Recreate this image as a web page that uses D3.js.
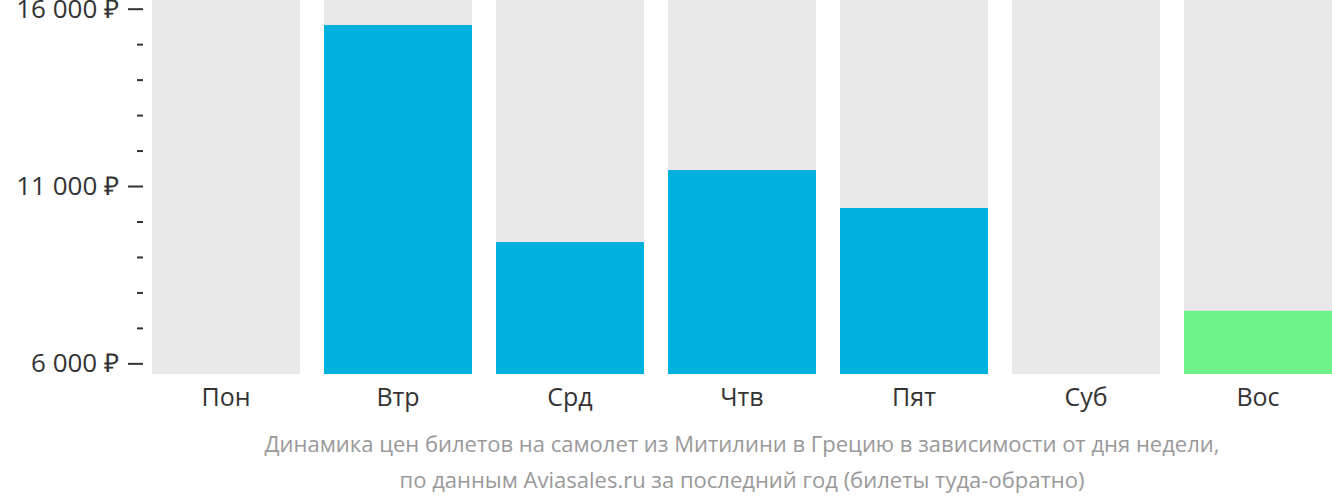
<!DOCTYPE html>
<html><head><meta charset="utf-8">
<script src="https://cdn.jsdelivr.net/npm/d3@7"></script>
<style>
html,body{margin:0;padding:0;background:#fff;}
svg{display:block;font-family:"Open Sans",sans-serif;}
</style></head>
<body>
<svg id="chart" width="1332" height="502"></svg>
<script>
const categories = ["Пон","Втр","Срд","Чтв","Пят","Суб","Вос"];
const values = [null, 15540, 9420, 11450, 10380, null, 7480];
const highlight = [false, false, false, false, false, false, true];
const majorTicks = [6000, 11000, 16000];
const minorTicks = [7000, 8000, 9000, 10000, 12000, 13000, 14000, 15000];
const tickLabels = ["6 000 ₽", "11 000 ₽", "16 000 ₽"];
const captionLines = [
  "Динамика цен билетов на самолет из Митилини в Грецию в зависимости от дня недели,",
  "по данным Aviasales.ru за последний год (билеты туда-обратно)"
];
const domainY = [5700, 16245];

const svg = d3.select("#chart");
const plotTop = 0, plotBottom = 374, axisX = 143;
const x = d3.scaleBand().domain(categories).range([152, 1332]).paddingInner(24/172).paddingOuter(0);
const y = d3.scaleLinear().domain(domainY).range([plotBottom, plotTop]);

// background columns
svg.append("g").selectAll("rect").data(categories).join("rect")
  .attr("x", d => x(d)).attr("width", x.bandwidth())
  .attr("y", y(domainY[1])).attr("height", y(domainY[0]) - y(domainY[1]))
  .attr("fill", "#e8e8e8");

// bars
const data = categories.map((c,i)=>({c, v: values[i], h: highlight[i]})).filter(d=>d.v!=null);
svg.append("g").selectAll("rect").data(data).join("rect")
  .attr("x", d => x(d.c)).attr("width", x.bandwidth())
  .attr("y", d => y(d.v)).attr("height", d => y(domainY[0]) - y(d.v))
  .attr("fill", d => d.h ? "#6ef28a" : "#00b1dd");

// y axis major
const axMajor = d3.axisLeft(y).tickValues(majorTicks).tickSize(15).tickPadding(9)
  .tickFormat((d,i)=>tickLabels[i]);
const gMaj = svg.append("g").attr("transform", `translate(${axisX},0)`).call(axMajor);
gMaj.select(".domain").remove();
gMaj.selectAll("line").attr("stroke","#333").attr("stroke-width",2);
gMaj.selectAll("text").attr("fill","#333").style("font-size","26px").style("font-family","'Open Sans',sans-serif");

const axMinor = d3.axisLeft(y).tickValues(minorTicks).tickSize(6).tickFormat("");
const gMin = svg.append("g").attr("transform", `translate(${axisX},0)`).call(axMinor);
gMin.select(".domain").remove();
gMin.selectAll("line").attr("stroke","#333").attr("stroke-width",2);

// x axis
const axX = d3.axisBottom(x).tickSize(0).tickPadding(14);
const gX = svg.append("g").attr("transform", `translate(0,${plotBottom})`).call(axX);
gX.select(".domain").remove();
gX.selectAll("text").attr("fill","#333").style("font-size","25px").style("font-family","'Open Sans',sans-serif");

// caption
svg.append("g").selectAll("text").data(captionLines).join("text")
  .attr("x", 742).attr("y", (d,i)=> 452 + i*36)
  .attr("text-anchor","middle").attr("fill","#999")
  .style("font-size","22px").text(d=>d);
</script>
</body></html>
